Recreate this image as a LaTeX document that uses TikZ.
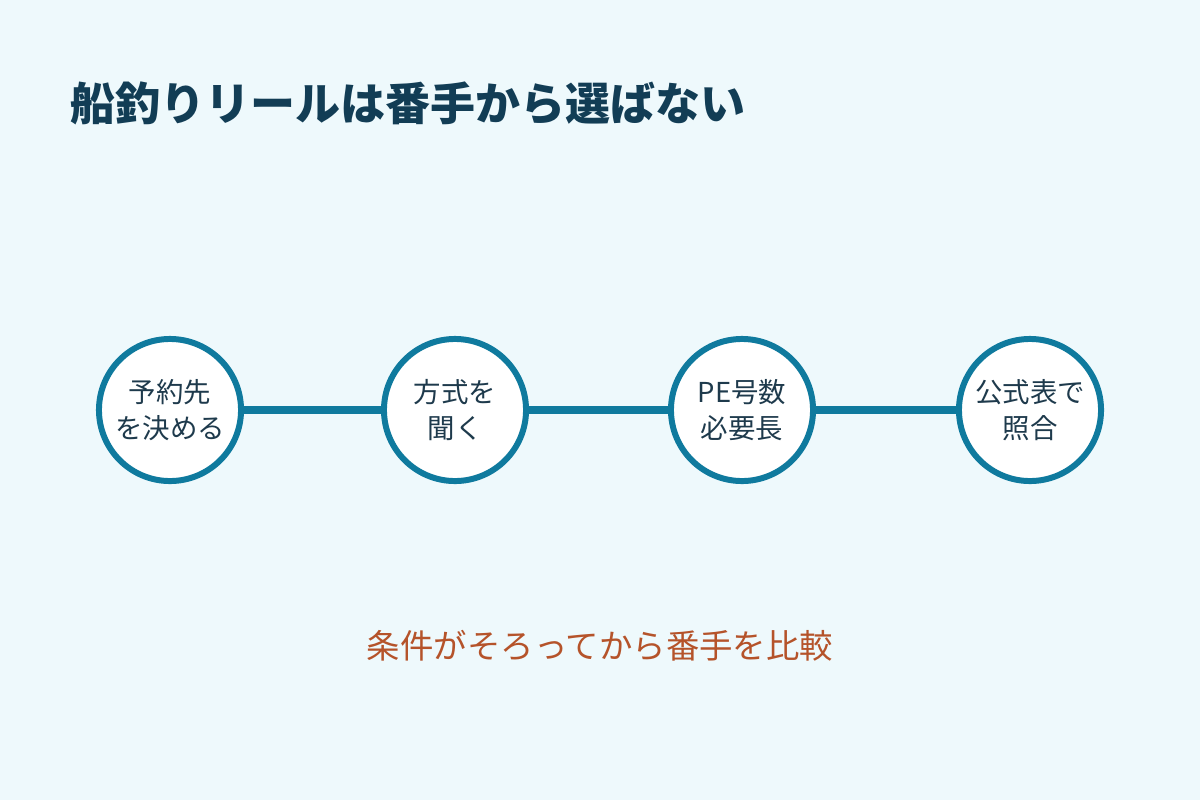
\documentclass[tikz,border=0pt]{standalone}
\usepackage{fontspec}
\newfontfamily\cjk{Noto Sans CJK JP}
\definecolor{bg}{HTML}{EEF9FC}
\definecolor{ring}{HTML}{0F7A9E}
\definecolor{ttl}{HTML}{123D55}
\definecolor{org}{HTML}{B5532A}
\definecolor{txt}{HTML}{1E3A4C}
\begin{document}
\begin{tikzpicture}[x=0.01cm,y=-0.01cm,
  stepnode/.style={circle,draw=ring,line width=1.7pt,fill=white,minimum size=1.42cm,inner sep=0pt,align=center,font=\cjk\fontsize{7.8pt}{10.2pt}\selectfont,text=txt},
  link/.style={ring,line width=2pt}]
\fill[bg] (0,0) rectangle (1200,800);
\useasboundingbox (0,0) rectangle (1200,800);
\node[anchor=west,inner sep=0pt,font=\cjk\bfseries\fontsize{12.8pt}{14pt}\selectfont,text=ttl] (title) at (70,103) {船釣りリールは番手から選ばない};
\node[stepnode] (a) at (170,410) {予約先\\を決める};
\node[stepnode] (b) at (455,410) {方式を\\聞く};
\node[stepnode] (c) at (742,410) {PE号数\\必要長};
\node[stepnode] (d) at (1030,410) {公式表で\\照合};
\draw[link] (a) -- (b);
\draw[link] (b) -- (c);
\draw[link] (c) -- (d);
\node[font=\cjk\fontsize{9.5pt}{11pt}\selectfont,text=org] (note) at (600,646) {条件がそろってから番手を比較};
\end{tikzpicture}
\end{document}
